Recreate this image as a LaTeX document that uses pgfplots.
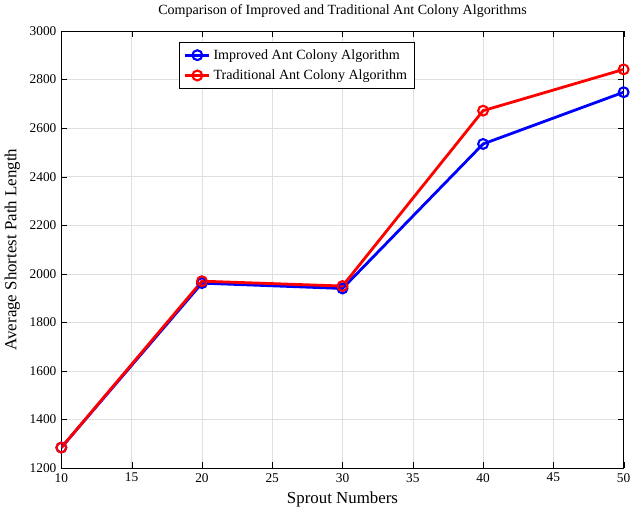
\documentclass[border=0pt]{standalone}
\usepackage{pgfplots}
\pgfplotsset{compat=1.18}
\usepackage{fontspec}
\setmainfont{Liberation Serif}
\begin{document}
\begin{tikzpicture}
\begin{axis}[
  scale only axis, width=400pt, height=311pt,
  xmin=10, xmax=50, ymin=1200, ymax=3000,
  xtick={10,15,...,50}, ytick={1200,1400,...,3000},
  grid=major, grid style={gray!25},
  tick style={black}, tick align=inside,
  /pgf/number format/assume math mode=true,
  /pgf/number format/1000 sep={},
  ticklabel style={font=\fontsize{9.5}{11}\selectfont},
  xlabel={Sprout Numbers}, ylabel={Average Shortest Path Length},
  label style={font=\fontsize{12}{13}\selectfont},
  title={Comparison of Improved and Traditional Ant Colony Algorithms},
  title style={font=\fontsize{10}{11}\selectfont},
  legend style={at={(0.21,0.975)}, anchor=north west, font=\fontsize{10}{12}\selectfont, draw=black, row sep=2pt, inner sep=3pt},
  legend cell align=left,
]
\addplot[blue, line width=2pt, mark=o, mark size=3.5pt, mark options={line width=1.5pt}] coordinates {(10,1285) (20,1962) (30,1940) (40,2535) (50,2748)};
\addlegendentry{Improved Ant Colony Algorithm}
\addplot[red, line width=2pt, mark=o, mark size=3.5pt, mark options={line width=1.5pt}] coordinates {(10,1285) (20,1970) (30,1950) (40,2672) (50,2842)};
\addlegendentry{Traditional Ant Colony Algorithm}
\end{axis}
\end{tikzpicture}
\end{document}
